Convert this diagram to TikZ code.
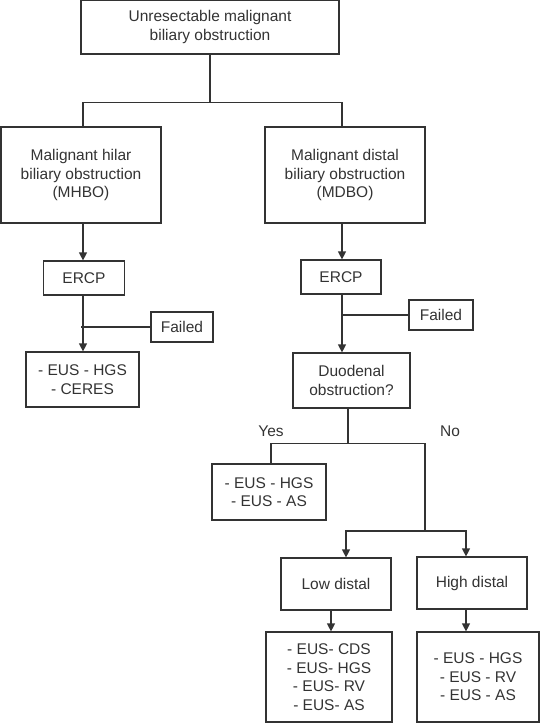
\documentclass[tikz,border=0pt]{standalone}
\usepackage{fontspec}
\setmainfont{Liberation Sans}
\usetikzlibrary{arrows.meta}
\definecolor{ink}{HTML}{333333}
\tikzset{
  box/.style={draw=ink, text=ink, line width=1.2pt, align=center, inner sep=0pt},
  link/.style={draw=ink, line width=1.2pt},
  arr/.style={link, -{Triangle[width=8pt,length=8pt]}},
  lbl/.style={text=ink, inner sep=0pt}
}

\begin{document}
\begin{tikzpicture}[x=1pt,y=-1pt,font=\fontsize{15.5}{18.6}\selectfont]
    \useasboundingbox (0,0) rectangle (540,723);

    \node[box,minimum width=258pt,minimum height=54pt] (top) at (210,27) {Unresectable malignant\\biliary obstruction};
    \node[box,minimum width=160pt,minimum height=96pt] (mhbo) at (81,175) {Malignant hilar\\biliary obstruction\\(MHBO)};
    \node[box,minimum width=160pt,minimum height=96pt] (mdbo) at (345,175) {Malignant distal\\biliary obstruction\\(MDBO)};

    \node[box,minimum width=81pt,minimum height=34pt] (ercpL) at (84,278) {ERCP};
    \node[box,minimum width=62pt,minimum height=30pt] (failL) at (182,327) {Failed};
    \node[box,minimum width=113pt,minimum height=55pt] (resL) at (82.5,379.5) {- EUS - HGS\\- CERES};

    \node[box,minimum width=80pt,minimum height=34pt] (ercpR) at (341,277) {ERCP};
    \node[box,minimum width=64pt,minimum height=30pt] (failR) at (441,315) {Failed};
    \node[box,minimum width=117pt,minimum height=55pt] (duo) at (351.5,380.5) {Duodenal\\obstruction?};
    \node[box,minimum width=114pt,minimum height=56pt] (yes) at (269,492) {- EUS - HGS\\- EUS - AS};
    \node[lbl] (yeslbl) at (271,431) {Yes};
    \node[lbl] (nolbl) at (450,431) {No};

    \node[box,minimum width=110pt,minimum height=52pt] (low) at (336,584) {Low distal};
    \node[box,minimum width=110pt,minimum height=52pt] (high) at (472,583) {High distal};
    \node[box,minimum width=126pt,minimum height=90pt] (lowres) at (329,677) {- EUS- CDS\\- EUS- HGS\\- EUS- RV\\- EUS- AS};
    \node[box,minimum width=122pt,minimum height=90pt] (highres) at (478,677) {- EUS - HGS\\- EUS - RV\\- EUS - AS};

    \draw[link] (top.south) -- ++(0,48) coordinate (split);
    \draw[link] (split) -| ([xshift=2pt]mhbo.north);
    \draw[link] (split) -| ([xshift=-3pt]mdbo.north);

    \draw[arr] ([xshift=2pt]mhbo.south) -- ([xshift=2pt]mhbo.south |- ercpL.north);
    \draw[arr] ([xshift=-1pt]ercpL.south) -- ([xshift=-1pt]ercpL.south |- resL.north);
    \draw[link] (failL.west) -- (failL.west -| mhbo.south);

    \draw[arr] ([xshift=-3pt]mdbo.south) -- ([xshift=-3pt]mdbo.south |- ercpR.north);
    \draw[arr] ([xshift=1pt]ercpR.south) -- ([xshift=1pt]ercpR.south |- duo.north);
    \draw[link] (failR.west) -- ([xshift=1pt]failR.west -| ercpR.south);

    \draw[link] ([xshift=-3.5pt]duo.south) -- ++(0,35) coordinate (fork);
    \draw[link] (fork) -| ([xshift=2pt]yes.north);
    \coordinate (nofork) at (425,531);
    \draw[link] (fork) -| (nofork);
    \draw[arr] (nofork) -| ([xshift=10pt]low.north);
    \draw[arr] (nofork) -| ([xshift=-6pt]high.north);

    \draw[arr] ([xshift=-5pt]low.south) -- ([xshift=-5pt]low.south |- lowres.north);
    \draw[arr] ([xshift=-6pt]high.south) -- ([xshift=-6pt]high.south |- highres.north);
\end{tikzpicture}
\end{document}
